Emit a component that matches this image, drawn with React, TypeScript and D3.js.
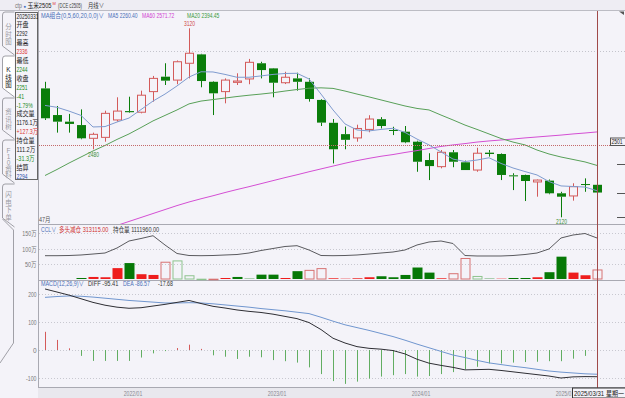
import { useRef, useEffect } from 'react';
import * as d3 from 'd3';

// monthly bars 2021/05 .. 2025/03
const months = d3.timeMonth.range(new Date(2021, 4, 1), new Date(2025, 3, 1));

const opens = [2802, 2661, 2626, 2608, 2538, 2543, 2635, 2682, 2676, 2785, 2864, 2846, 2935, 2982, 2837, 2785, 2834, 2852, 2935, 2908, 2832, 2855, 2837, 2741, 2620, 2560, 2540, 2585, 2639, 2582, 2573, 2520, 2423, 2388, 2464, 2411, 2370, 2462, 2455, 2342, 2344, 2307, 2314, 2247, 2233, 2296, 2292];
const highs = [2837, 2709, 2667, 2691, 2568, 2684, 2755, 2758, 2790, 2868, 2935, 2950, 3120, 2985, 2840, 2855, 2882, 2958, 2943, 2910, 2890, 2885, 2855, 2745, 2640, 2600, 2610, 2660, 2650, 2599, 2603, 2525, 2459, 2476, 2476, 2420, 2488, 2476, 2458, 2353, 2346, 2320, 2320, 2255, 2300, 2326, 2336];
const lows = [2635, 2568, 2568, 2533, 2480, 2520, 2626, 2673, 2670, 2732, 2820, 2824, 2855, 2808, 2661, 2723, 2820, 2824, 2855, 2755, 2825, 2790, 2732, 2603, 2405, 2480, 2520, 2570, 2590, 2555, 2512, 2361, 2317, 2379, 2385, 2370, 2361, 2441, 2317, 2264, 2206, 2229, 2242, 2120, 2208, 2255, 2244];
const closes = [2644, 2626, 2614, 2538, 2559, 2670, 2682, 2676, 2766, 2855, 2843, 2943, 2988, 2841, 2776, 2846, 2841, 2940, 2899, 2832, 2861, 2837, 2746, 2621, 2480, 2530, 2590, 2640, 2603, 2579, 2517, 2414, 2391, 2464, 2414, 2370, 2459, 2455, 2344, 2337, 2312, 2317, 2247, 2229, 2282, 2292, 2251];

const ma5 = [2712, 2702, 2682, 2659, 2598, 2600, 2624, 2645, 2690, 2735, 2772, 2815, 2862, 2890, 2889, 2876, 2861, 2861, 2868, 2876, 2881, 2882, 2852, 2772, 2688, 2614, 2582, 2577, 2585, 2591, 2569, 2534, 2503, 2466, 2428, 2415, 2423, 2435, 2405, 2381, 2362, 2344, 2309, 2286, 2283, 2280, 2260.4];
const ma20 = [2341, 2373, 2407, 2439, 2471, 2500, 2532, 2561, 2595, 2630, 2659, 2688, 2720, 2735, 2743, 2751, 2759, 2766, 2772, 2779, 2788, 2796, 2803, 2805, 2802, 2788, 2772, 2757, 2741, 2725, 2709, 2696, 2688, 2661, 2635, 2608, 2585, 2561, 2537, 2518, 2503, 2476, 2455, 2439, 2426, 2413, 2394.45];
const ma60 = [1950, 1971, 1992, 2013, 2034, 2055, 2077, 2098, 2119, 2140, 2161, 2182, 2201, 2218, 2234, 2251, 2267, 2282, 2298, 2314, 2330, 2345, 2361, 2376, 2391, 2406, 2420, 2432, 2443, 2452, 2463, 2473, 2484, 2495, 2503, 2510, 2518, 2524, 2529, 2534, 2540, 2545, 2550, 2555, 2561, 2566, 2571.72];

// CCL panel, 万
const openInterest = [76.5, 76.5, 77.1, 78.8, 82, 85.3, 101.7, 124.7, 132.9, 142.1, 111.6, 83.7, 77.1, 76.5, 77.1, 78.8, 80.4, 85.3, 93.5, 100.1, 106.7, 109.3, 95.2, 77.1, 76.5, 77.1, 78.8, 82, 85.3, 88.6, 95.2, 111.6, 121.4, 124.7, 116.5, 77.1, 75.5, 75.5, 75.5, 77.1, 80.4, 85.3, 98.5, 134.6, 144.4, 149.3, 134.6];
const oiChange = [0, 0, 0, 3.3, 6.7, 5.7, 35.7, 52.3, 15.7, 13.3, 56.7, 61, 12.3, 1, 1, 3.3, 6.7, 1, 14.3, 14.3, 3.3, 25.7, 30, 35.7, 2.3, 1, 2.3, 5.7, 9, 5.7, 13.3, 37.7, 21, 2.3, 19, 69, 10, 1, 1, 3.3, 3.3, 5.7, 22.3, 73.3, 21, 12.3, 31.3];
// R 多头增仓, G 空头增仓, r 多头减仓, g 空头减仓
const oiChangeType = 'RRRGRRRGRRrgggrRGGGGRGrrRRRRGGGGGRrrgGRGGRGGRRr'.split('');

// MACD(12,26,9)
const diff = [218, 207, 196, 183, 170, 160, 153, 149, 151, 157, 163, 170, 177, 166, 156, 150, 143, 138, 134, 128, 120, 112, 98, 73, 42, 25, 12, 6, 3, -2, -14, -33, -47, -55, -62, -71, -70, -69, -73, -78, -83, -88, -93, -100, -96, -95, -95.41];
const dea = [188, 191, 193, 192, 189, 185, 181, 177, 174, 171, 168, 168, 169, 168, 165, 161, 157, 153, 148, 144, 140, 135, 130, 117, 103, 90, 80, 70, 59, 48, 35, 21, 8, -5, -18, -27, -37, -46, -52, -58, -63, -69, -75, -79, -82, -85, -86.57];
const macdHist = [65, 36, 6, -21, -39, -39, -39, -39, -27, -12, -4, 7, 19, 4, -19, -24, -32, -24, -26, -36, -40, -45, -62, -86, -111, -121, -113, -102, -95, -90, -86, -95, -93, -86, -79, -69, -60, -48, -48, -45, -43, -42, -40, -40, -31, -21, -17.68];

const xTickLabels = ['2022/01', '2023/01', '2024/01', '2025/01'];
const priceGrid = [3000];
const priceTicks = [2400, 2250, 2120];
const oiTicks = [50, 100, 150];
const macdTicks = [-100, 0, 100, 200];
const crossPrice = 2501;

const tabs = ['分时图', 'K线图', '资讯树', 'F10资料', '闪电下单'];
const infoRows = ['20250331', '开盘', '2292', '最高', '2336', '最低', '2244', '收盘', '2251', '-41', '-1.79%', '成交量', '1176.1万', '+127.3万', '持仓量', '111.2万', '-31.3万', '结算', '2294'];

const BG = '#f4f3f9';
const RED = '#d35a5a';
const GREEN = '#0a7d0a';
const FONT = '"Liberation Sans", "Noto Sans CJK SC", sans-serif';

// rough advance width of a string, in em, to squeeze text like the narrow UI font
function emWidth(s: string) {
  let w = 0;
  for (const ch of s) {
    const c = ch.codePointAt(0)!;
    if (c >= 0x2e80) w += 1;
    else if (ch === '●' || ch === '∨') w += 0.8;
    else if (ch === '.' || ch === ',' || ch === ' ') w += 0.28;
    else if (ch === '(' || ch === ')' || ch === '-' || ch === '/') w += 0.35;
    else if (ch === '%') w += 0.7;
    else if (/[A-Z]/.test(ch)) w += 0.58;
    else if (/[a-z]/.test(ch)) w += 0.45;
    else w += 0.46;
  }
  return w;
}

export default function App() {
  const ref = useRef<SVGSVGElement | null>(null);

  useEffect(() => {
    document.body.style.margin = '0';
    const W = 625;
    const H = 398;
    const svg = d3.select(ref.current);
    svg.selectAll('*').remove();
    svg.attr('font-family', FONT);

    const n = closes.length;
    const x = d3.scaleLinear().domain([0, n - 1]).range([45, 597]);
    const y = d3
      .scaleLinear()
      .domain([d3.min(lows)!, d3.max(highs)!])
      .range([217.3, 28.3]);
    const yOi = d3.scaleLinear().domain([0, 150]).range([279, 233.3]);
    const yMacd = d3.scaleLinear().domain([-100, 200]).range([378, 294]);

    // text of a given font size, squeezed to the width of the 6px UI font
    const text = (
      g: any,
      tx: number,
      ty: number,
      s: string,
      color: string,
      anchor = 'start',
      size = 7,
      fit: number | boolean = true
    ) => {
      const t = g
        .append('text')
        .attr('x', tx)
        .attr('y', ty)
        .attr('fill', color)
        .attr('font-size', size)
        .attr('text-anchor', anchor)
        .text(s);
      if (fit !== false && s.length > 1) {
        const len = typeof fit === 'number' ? fit : emWidth(s) * Math.min(size, 6);
        t.attr('textLength', len).attr('lengthAdjust', 'spacingAndGlyphs');
      }
      return t;
    };

    // background
    svg.append('rect').attr('width', W).attr('height', H).attr('fill', BG);
    svg.append('rect').attr('width', W).attr('height', 10.5).attr('fill', '#eeedf3');
    svg.append('rect').attr('x', 38).attr('y', 388).attr('width', W - 38).attr('height', 10).attr('fill', '#e9e8ee');

    // top bar
    const top = svg.append('g');
    text(top, 15, 7.5, 'ctp', '#777', 'start', 6.5, 7);
    text(top, 23.5, 7.5, '●', '#3b6fc2', 'start', 4.5);
    text(top, 27.5, 7.5, '玉米2505', '#222', 'start', 6.5, 24);
    text(top, 52.5, 5, 'M', '#d33', 'start', 4);
    text(top, 58, 7.5, '(DCE c2505)', '#444', 'start', 6.5, 24);
    text(top, 88, 7.5, '月线∨', '#333', 'start', 6.5, 16);
    svg.append('line').attr('x1', 0).attr('x2', W).attr('y1', 10.5).attr('y2', 10.5).attr('stroke', '#bcbcc4');
    svg.append('path').attr('d', 'M619,11.5 L624,11.5 L624,15 Z').attr('fill', '#555');

    // side tabs
    const tabG = svg.append('g');
    const tabY = [12, 56, 98, 140, 184, 228];
    tabs.forEach((t, k) => {
      const y0 = tabY[k];
      const y1 = tabY[k + 1];
      const active = k === 1;
      tabG
        .append('path')
        .attr('d', `M14.5,${y0} L5,${y0} Q2.5,${y0} 2.5,${y0 + 3} L2.5,${y1 - 10} L14.5,${y1 - 1}`)
        .attr('fill', active ? '#ffffff' : 'none')
        .attr('stroke', '#8a8a92')
        .attr('stroke-width', 0.8);
      const chars = t.startsWith('F10') ? ['F', '1', '0', '资', '料'] : t.split('');
      const step = chars.length > 4 ? 6 : 7.5;
      const start = (y0 + y1) / 2 - ((chars.length - 1) * step) / 2;
      chars.forEach((c, j) => {
        text(tabG, 8.5, start + j * step + 2.5, c, active ? '#222' : '#9a9aa2', 'middle', 6.5, false);
      });
    });
    tabG
      .append('path')
      .attr('d', 'M2.5,219 L13.5,230 L13.5,343 L0,363')
      .attr('fill', 'none')
      .attr('stroke', '#8a8a92')
      .attr('stroke-width', 0.8);

    // info box
    const info = svg.append('g');
    info
      .append('rect')
      .attr('x', 15.5)
      .attr('y', 12.5)
      .attr('width', 22)
      .attr('height', 167)
      .attr('fill', BG)
      .attr('stroke', '#666');
    const infoColor = (s: string, k: number) => {
      if (k === 4 || s.startsWith('+')) return '#d33';
      if (k === 18) return '#2a4fa8';
      if (k === 6 || k === 8 || s.startsWith('-')) return '#1a8a1a';
      return '#222';
    };
    infoRows.forEach((s, k) => {
      text(info, 16.5, 18.5 + k * 8.9, s, infoColor(s, k));
    });

    // frame lines
    const frame = svg.append('g').attr('stroke', '#a9a9b2');
    frame.append('line').attr('x1', 38.5).attr('x2', 38.5).attr('y1', 11).attr('y2', 388);
    [224.5, 280.5, 387.5].forEach(v =>
      frame.append('line').attr('x1', 38).attr('x2', W).attr('y1', v).attr('y2', v)
    );

    // ---------- main K-line panel ----------
    svg
      .append('clipPath')
      .attr('id', 'mainClip')
      .append('rect')
      .attr('x', 39)
      .attr('y', 11)
      .attr('width', 586)
      .attr('height', 213);
    const main = svg.append('g').attr('clip-path', 'url(#mainClip)');

    priceGrid.forEach(p =>
      main
        .append('line')
        .attr('x1', 39)
        .attr('x2', W)
        .attr('y1', Math.round(y(p)) + 0.5)
        .attr('y2', Math.round(y(p)) + 0.5)
        .attr('stroke', '#c4c4cc')
        .attr('stroke-dasharray', '1,2')
    );

    d3.range(n).forEach(i => {
      const cx = Math.round(x(i));
      const up = closes[i] >= opens[i];
      const color = up ? RED : GREEN;
      const bTop = y(Math.max(opens[i], closes[i]));
      const bBot = y(Math.min(opens[i], closes[i]));
      main.append('line').attr('x1', cx + 0.5).attr('x2', cx + 0.5)
        .attr('y1', y(highs[i])).attr('y2', bTop).attr('stroke', color);
      main.append('line').attr('x1', cx + 0.5).attr('x2', cx + 0.5)
        .attr('y1', bBot).attr('y2', y(lows[i])).attr('stroke', color);
      if (up) {
        main
          .append('rect')
          .attr('x', cx - 3.5)
          .attr('y', bTop)
          .attr('width', 8)
          .attr('height', Math.max(0.5, bBot - bTop))
          .attr('fill', BG)
          .attr('stroke', color);
      } else {
        main
          .append('rect')
          .attr('x', cx - 4)
          .attr('y', bTop)
          .attr('width', 9)
          .attr('height', Math.max(1, bBot - bTop))
          .attr('fill', color);
      }
    });

    const maLine = d3
      .line<number>()
      .x((_, i) => x(i))
      .y(d => y(d));
    [
      { data: ma60, color: '#d44fd4' },
      { data: ma20, color: '#58a058' },
      { data: ma5, color: '#7f9bcf' },
    ].forEach(s =>
      main
        .append('path')
        .datum(s.data)
        .attr('fill', 'none')
        .attr('stroke', s.color)
        .attr('stroke-width', 1)
        .attr('d', maLine)
    );

    // high / low marks
    const hiIdx = d3.maxIndex(highs);
    const loIdx = d3.minIndex(lows);
    text(main, x(hiIdx) + 0.5, y(highs[hiIdx]) - 2, String(highs[hiIdx]), '#d04a4a', 'middle');
    text(main, x(4) + 0.5, y(lows[4]) + 8, String(lows[4]), '#3d8f3d', 'middle');
    text(main, x(loIdx) + 0.5, y(lows[loIdx]) + 7, String(lows[loIdx]), '#3d8f3d', 'middle');

    // header
    const head = svg.append('g');
    text(head, 41, 17.5, 'MA组合(0,5,60,20,0,0)∨', '#4a70b8', 'start', 7, 63);
    text(head, 108, 17.5, `MA5 ${ma5[n - 1].toFixed(2)}`, '#4a70b8');
    text(head, 142, 17.5, `MA60 ${ma60[n - 1].toFixed(2)}`, '#d040d0');
    text(head, 187, 17.5, `MA20 ${ma20[n - 1].toFixed(2)}`, '#3a9a3a');
    text(svg, 39, 222, '47月', '#555');

    // right axis ticks
    priceTicks.forEach(p =>
      svg
        .append('line')
        .attr('x1', 617)
        .attr('x2', W)
        .attr('y1', Math.round(y(p)) + 0.5)
        .attr('y2', Math.round(y(p)) + 0.5)
        .attr('stroke', '#555')
    );

    // crosshair
    const cy = Math.round(y(crossPrice)) + 0.5;
    svg
      .append('line')
      .attr('x1', 39)
      .attr('x2', 610)
      .attr('y1', cy)
      .attr('y2', cy)
      .attr('stroke', '#c46a6a')
      .attr('stroke-dasharray', '1,1');
    svg
      .append('rect')
      .attr('x', 610.5)
      .attr('y', cy - 7.5)
      .attr('width', 16)
      .attr('height', 7.5)
      .attr('fill', BG)
      .attr('stroke', '#555');
    text(svg, 611.5, cy - 1.5, String(crossPrice), '#222', 'start', 6.5);

    // ---------- CCL panel ----------
    const ccl = svg.append('g');
    oiTicks.forEach(v => {
      const gy = Math.round(yOi(v)) + 0.5;
      ccl.append('line').attr('x1', 39).attr('x2', W).attr('y1', gy).attr('y2', gy)
        .attr('stroke', '#c8c8d0').attr('stroke-dasharray', '1,2');
      text(ccl, 36.5, gy + 2.3, `${v}万`, '#777', 'end', 6.5);
    });
    oiChange.forEach((v, i) => {
      if (v <= 0) return;
      const t = oiChangeType[i];
      const cx = Math.round(x(i));
      const h = yOi(0) - yOi(v);
      if (t === 'R' || t === 'G') {
        ccl.append('rect').attr('x', cx - 4.5).attr('y', yOi(v)).attr('width', 10).attr('height', h)
          .attr('fill', t === 'R' ? '#ee1d1d' : '#067806');
      } else {
        ccl.append('rect').attr('x', cx - 4).attr('y', yOi(v) + 0.5).attr('width', 9).attr('height', Math.max(0.5, h - 0.5))
          .attr('fill', 'none').attr('stroke', t === 'r' ? '#d77272' : '#8ec48e');
      }
    });
    ccl
      .append('path')
      .datum(openInterest)
      .attr('fill', 'none')
      .attr('stroke', '#5a5a5e')
      .attr('d', d3.line<number>().x((_, i) => x(i)).y(d => yOi(d)));
    text(ccl, 41, 231.5, 'CCL∨', '#4a70b8');
    text(ccl, 59, 231.5, '多头减仓 313115.00', '#d03030');
    text(ccl, 113, 231.5, '持仓量 1111960.00', '#333');

    // ---------- MACD panel ----------
    const mg = svg.append('g');
    macdTicks.forEach(v => {
      const gy = Math.round(yMacd(v)) + 0.5;
      mg.append('line').attr('x1', 39).attr('x2', W).attr('y1', gy).attr('y2', gy)
        .attr('stroke', '#c8c8d0').attr('stroke-dasharray', '1,2');
      text(mg, 36.5, gy + 2.3, String(v), '#777', 'end', 6.5);
    });
    macdHist.forEach((v, i) => {
      const cx = Math.round(x(i)) + 0.5;
      mg.append('line').attr('x1', cx).attr('x2', cx).attr('y1', yMacd(0)).attr('y2', yMacd(v))
        .attr('stroke', v >= 0 ? '#d45a5a' : '#62ad62');
    });
    const macdLine = d3.line<number>().x((_, i) => x(i)).y(d => yMacd(d));
    mg.append('path').datum(dea).attr('fill', 'none').attr('stroke', '#7096cf').attr('d', macdLine);
    mg.append('path').datum(diff).attr('fill', 'none').attr('stroke', '#2e2e34').attr('d', macdLine);
    text(mg, 41, 286, 'MACD(12,26,9)∨', '#4a70b8', 'start', 7, 43);
    text(mg, 88, 286, `DIFF ${diff[n - 1].toFixed(2)}`, '#333');
    text(mg, 123, 286, `DEA ${dea[n - 1].toFixed(2)}`, '#4a70b8');
    text(mg, 158, 286, macdHist[n - 1].toFixed(2), '#333');

    // ---------- time axis ----------
    svg
      .append('clipPath')
      .attr('id', 'axisClip')
      .append('rect')
      .attr('x', 38)
      .attr('y', 388)
      .attr('width', 534)
      .attr('height', 10);
    const axis = svg.append('g').attr('clip-path', 'url(#axisClip)');
    const fmt = d3.timeFormat('%Y/%m');
    xTickLabels.forEach(lbl => {
      const i = months.findIndex(m => fmt(m) === lbl);
      if (i < 0) return;
      text(axis, x(i) - 8, 395.5, lbl, '#8a8a92', 'middle', 6.5);
    });

    // vertical crosshair + date box
    svg
      .append('line')
      .attr('x1', Math.round(x(n - 1)) + 0.5)
      .attr('x2', Math.round(x(n - 1)) + 0.5)
      .attr('y1', 11)
      .attr('y2', H)
      .attr('stroke', '#a04a4a');
    svg
      .append('rect')
      .attr('x', 572.5)
      .attr('y', 388)
      .attr('width', 53)
      .attr('height', 10)
      .attr('fill', BG)
      .attr('stroke', '#333');
    text(svg, 574, 395.8, `${d3.timeFormat('%Y/%m/%d')(new Date(2025, 2, 31))} 星期一`, '#222', 'start', 7, 50);
  }, []);

  return <svg ref={ref} width={625} height={398} style={{ display: 'block' }}></svg>;
}
